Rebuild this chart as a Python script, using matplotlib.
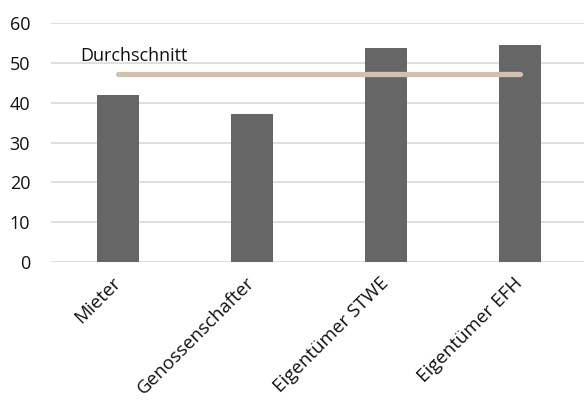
import matplotlib.pyplot as plt

categories = ["Mieter", "Genossenschafter", "Eigentümer STWE", "Eigentümer EFH"]
values = [41.8, 37.1, 53.8, 54.5]
average = 47.2
avg_label = "Durchschnitt"

plt.rcParams['font.family'] = ['Open Sans', 'DejaVu Sans']

fig = plt.figure(figsize=(5.84, 4.03), dpi=100)
ax = fig.add_axes([51 / 584, 141 / 403, 536 / 584, 239 / 403])

x = list(range(len(categories)))
ax.bar(x, values, width=0.31, color='#666666', zorder=2)

# average line across the categories
ax.plot([x[0], x[-1]], [average, average], color='#d2c1af', linewidth=3.8,
        solid_capstyle='round', zorder=3)
ax.text(-0.284, 51.8, avg_label, fontsize=13, color='#111111', va='center', ha='left')

ax.set_xlim(-0.5, 3.5)
ax.set_ylim(0, 60)
ax.set_yticks(range(0, 61, 10))
ax.yaxis.grid(True, color='#d9d9d9', linewidth=1.2, zorder=0)
ax.set_axisbelow(True)
for s in ax.spines.values():
    s.set_visible(False)
ax.tick_params(axis='both', length=0, colors='#111111')
ax.tick_params(axis='y', pad=15, labelsize=13)
ax.set_xticks(x)
ax.set_xticklabels(categories, rotation=45, ha='right', va='center',
                   rotation_mode='anchor', fontsize=13.5)
ax.tick_params(axis='x', pad=13)

fig.savefig('out.png', dpi=100)
